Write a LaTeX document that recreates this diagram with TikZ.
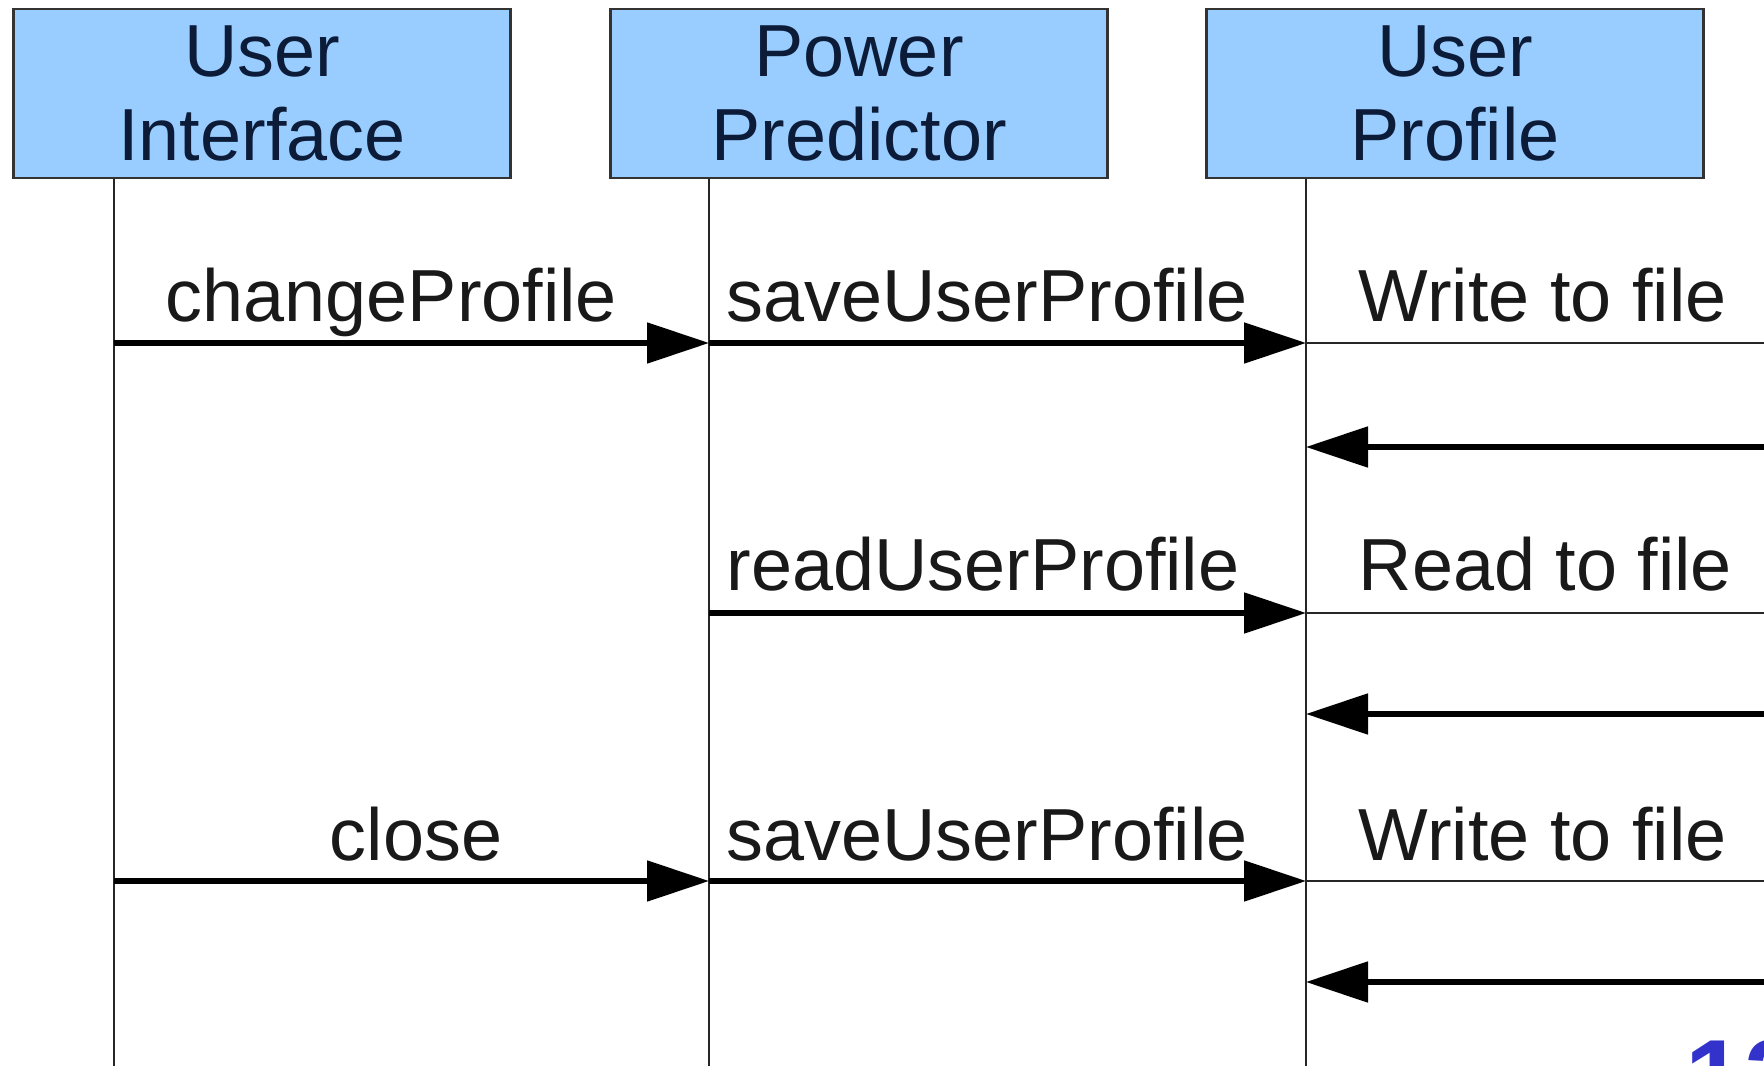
\documentclass[tikz,border=0pt]{standalone}
\usepackage{fontspec}
\setmainfont{Liberation Sans}
\usetikzlibrary{arrows.meta}

\definecolor{boxblue}{RGB}{153,204,255}
\definecolor{boxtext}{RGB}{12,28,56}
\definecolor{pageblue}{RGB}{51,51,204}

\tikzset{
	objbox/.style={draw=black!80, line width=0.6pt, fill=boxblue, text=boxtext, minimum width=4.97cm, minimum height=1.69cm, align=center, font=\fontsize{21}{23.9}\selectfont},
	lifeln/.style={draw=black!85, line width=0.5pt},
	callarrow/.style={line width=1.5pt, -{Triangle[length=6.2mm,width=4mm]}},
	fileline/.style={draw=black!85, line width=0.5pt},
	msgtext/.style={inner sep=0pt, text=black!90, font=\fontsize{21}{24}\selectfont}
}

\begin{document}
\begin{tikzpicture}
	\useasboundingbox (0,0) rectangle (17.64,-10.66);
	\clip (0,0) rectangle (17.64,-10.66);
	\fill[white] (0,0) rectangle (17.64,-10.66);
	\node[objbox] (ui) at (2.62,-0.935) {User\\Interface};
	\node[objbox] (pp) at (8.59,-0.935) {Power\\Predictor};
	\node[objbox] (up) at (14.55,-0.935) {User\\Profile};
	\foreach \r/\y in {a/3.43,b/4.47,c/6.13,d/7.14,e/8.81,f/9.82}{
		\coordinate (ui\r) at (1.14,-\y);
		\coordinate (pp\r) at (7.09,-\y);
		\coordinate (up\r) at (13.06,-\y);
		\coordinate (fs\r) at (17.64,-\y);
	}
	\coordinate (uiend) at (1.14,-10.66);
	\coordinate (ppend) at (7.09,-10.66);
	\coordinate (upend) at (13.06,-10.66);
	\draw[lifeln] (ui.south -| uiend) -- (uiend);
	\draw[lifeln] (pp.south -| ppend) -- (ppend);
	\draw[lifeln] (up.south -| upend) -- (upend);
	\draw[callarrow] (uia) -- (ppa);
	\draw[callarrow] (ppa) -- (upa);
	\draw[fileline] (upa) -- (fsa);
	\draw[callarrow] (fsb) -- (upb);
	\draw[callarrow] (ppc) -- (upc);
	\draw[fileline] (upc) -- (fsc);
	\draw[callarrow] (fsd) -- (upd);
	\draw[callarrow] (uie) -- (ppe);
	\draw[callarrow] (ppe) -- (upe);
	\draw[fileline] (upe) -- (fse);
	\draw[callarrow] (fsf) -- (upf);
	\node[msgtext, anchor=base west] (chg) at (1.65,-3.22) {changeProfile};
	\node[msgtext, anchor=base west] (save1) at (7.26,-3.22) {saveUserProfile};
	\node[msgtext, anchor=base west] (write1) at (13.58,-3.22) {Write to file};
	\node[msgtext, anchor=base west] (read) at (7.26,-5.91) {readUserProfile};
	\node[msgtext, anchor=base west] (readf) at (13.58,-5.91) {Read to file};
	\node[msgtext, anchor=base] (cls) at (4.16,-8.60) {close};
	\node[msgtext, anchor=base west] (save2) at (7.26,-8.60) {saveUserProfile};
	\node[msgtext, anchor=base west] (write2) at (13.58,-8.60) {Write to file};
	\node[anchor=base west, inner sep=0pt, text=pageblue, font=\fontsize{30}{36}\selectfont\bfseries] (pgno) at (16.85,-11.13) {12};
\end{tikzpicture}
\end{document}
